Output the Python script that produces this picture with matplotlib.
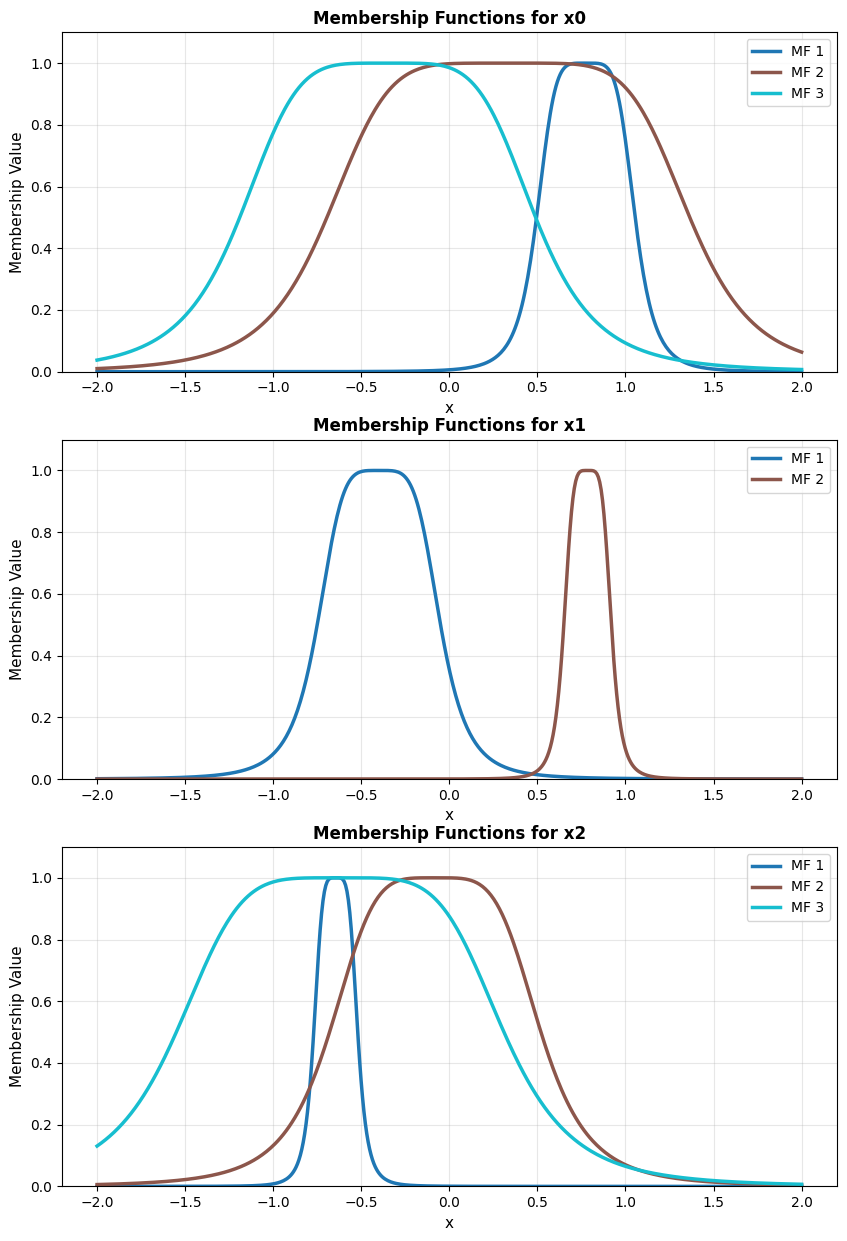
import numpy as np
import matplotlib
matplotlib.use("Agg")
import matplotlib.pyplot as plt

# generalized bell parameters (a, b, c) per input
x0_a = [0.28, 1.03, 0.84]
x0_b = [2.5, 2.8, 2.4]
x0_c = [0.775, 0.335, -0.35]

x1_a = [0.35, 0.135]
x1_b = [2.25, 2.4]
x1_c = [-0.40, 0.785]

x2_a = [0.125, 0.60, 0.93]
x2_b = [2.3, 2.2, 2.4]
x2_c = [-0.645, -0.08, -0.62]

inputs = ["x0", "x1", "x2"]
params = [(x0_a, x0_b, x0_c), (x1_a, x1_b, x1_c), (x2_a, x2_b, x2_c)]
colors = ["#1f77b4", "#8c564b", "#17becf"]


def gbell(x, a, b, c):
    return 1.0 / (1.0 + np.abs((x - c) / a) ** (2 * b))


xs = np.linspace(-2, 2, 500)

fig, axes = plt.subplots(3, 1, figsize=(8.47, 12.41), dpi=100)
plt.subplots_adjust(left=0.073, right=0.988, top=0.974, bottom=0.044, hspace=0.2)

for ax, name, (a_list, b_list, c_list) in zip(axes, inputs, params):
    for i, (a, b, c) in enumerate(zip(a_list, b_list, c_list)):
        ax.plot(xs, gbell(xs, a, b, c), color=colors[i], linewidth=2.5, label=f"MF {i + 1}")
    ax.set_title(f"Membership Functions for {name}", fontweight="bold")
    ax.set_xlabel("x", fontsize=11)
    ax.set_ylabel("Membership Value", fontsize=11)
    ax.set_ylim(0, 1.1)
    ax.grid(True, alpha=0.3)
    ax.legend(loc="upper right")

plt.savefig("out.png")
plt.close()
